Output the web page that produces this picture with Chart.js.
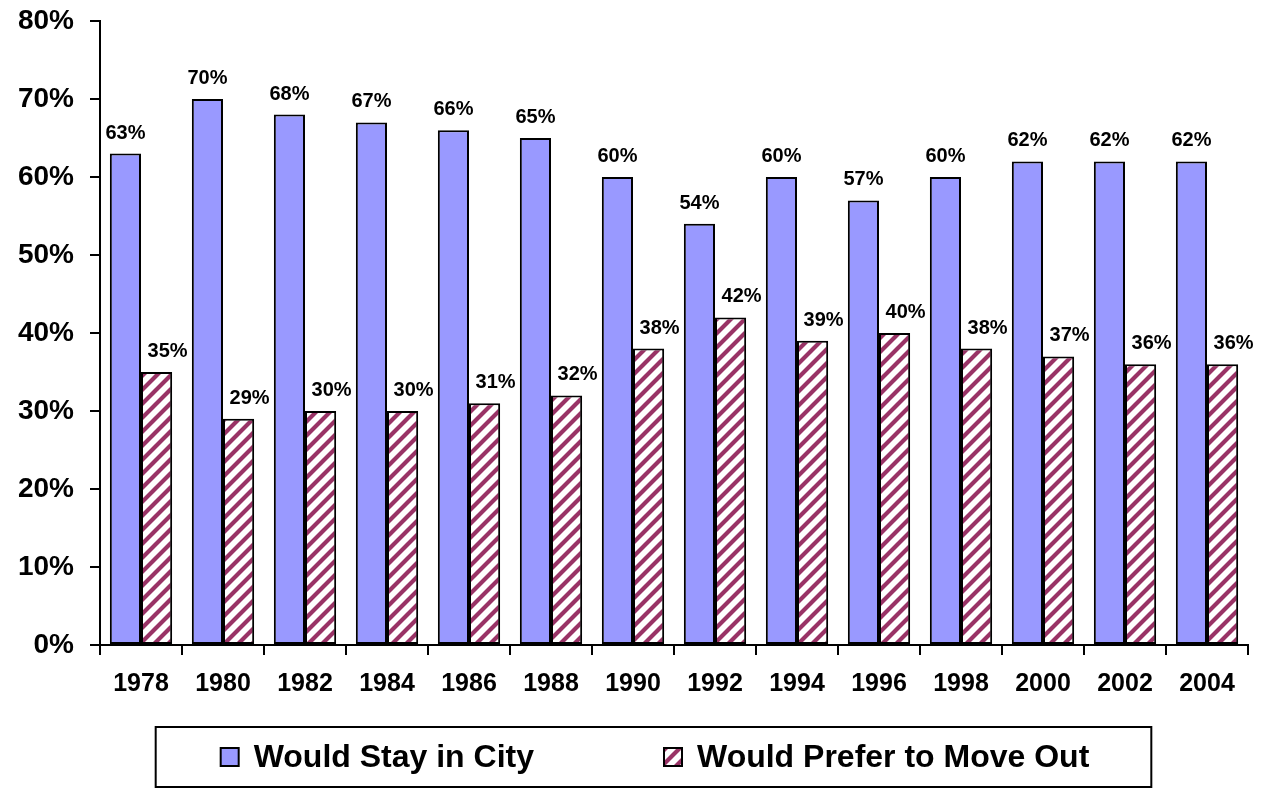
<!DOCTYPE html>
<html>
<head>
<meta charset="utf-8">
<script src="https://cdn.jsdelivr.net/npm/chart.js@4.4.1/dist/chart.umd.min.js"></script>
<style>
  html, body { margin: 0; padding: 0; background: #fff; }
  #wrap { width: 1279px; height: 789px; }
</style>
</head>
<body>
<div id="wrap"><canvas id="chart" width="1279" height="789"></canvas></div>
<script>
const years = ["1978","1980","1982","1984","1986","1988","1990","1992","1994","1996","1998","2000","2002","2004"];
const stayInCity = [63, 70, 68, 67, 66, 65, 60, 54, 60, 57, 60, 62, 62, 62];
const moveOut    = [35, 29, 30, 30, 31, 32, 38, 42, 39, 40, 38, 37, 36, 36];
const yTicks     = [0, 10, 20, 30, 40, 50, 60, 70, 80];

const FONT = "'Liberation Sans', Arial, sans-serif";

// diagonal maroon stripes on white
function makeHatch() {
  const s = 14;
  const c = document.createElement("canvas");
  c.width = s; c.height = s;
  const g = c.getContext("2d");
  g.fillStyle = "#fff";
  g.fillRect(0, 0, s, s);
  g.strokeStyle = "#993366";
  g.lineWidth = 4.2;
  g.beginPath();
  g.moveTo(-s, 2 * s); g.lineTo(2 * s, -s);
  g.moveTo(-s, s);     g.lineTo(s, -s);
  g.moveTo(0, 2 * s);  g.lineTo(2 * s, 0);
  g.stroke();
  return g.createPattern(c, "repeat");
}
const hatch = makeHatch();

// percentage labels above each bar (second series sits a little to the right)
const valueLabels = {
  id: "valueLabels",
  afterDatasetsDraw(chart) {
    const ctx = chart.ctx;
    ctx.save();
    ctx.font = "bold 20px " + FONT;
    ctx.fillStyle = "#000";
    ctx.textAlign = "center";
    ctx.textBaseline = "alphabetic";
    chart.data.datasets.forEach((ds, i) => {
      const dx = i === 1 ? 11 : 0;
      chart.getDatasetMeta(i).data.forEach((bar, j) => {
        ctx.fillText(ds.data[j] + "%", bar.x + dx, bar.y - 15);
      });
    });
    ctx.restore();
  }
};

// framed legend in the space left under the x axis
const boxedLegend = {
  id: "boxedLegend",
  afterDraw(chart) {
    const ctx = chart.ctx;
    const sw = 18, gap = 15, spacing = 130;
    const cx = 655, cy = chart.chartArea.bottom + 112;
    ctx.save();
    ctx.font = "bold 32px " + FONT;
    const items = chart.data.datasets.map(ds => ({ ds, w: ctx.measureText(ds.label).width }));
    const total = items.reduce((s, it) => s + sw + gap + it.w, 0) + spacing * (items.length - 1);
    let x = cx - total / 2;
    const start = x;
    ctx.textBaseline = "middle";
    ctx.textAlign = "left";
    items.forEach(it => {
      ctx.fillStyle = it.ds.backgroundColor;
      ctx.fillRect(x, cy - sw / 2, sw, sw);
      ctx.strokeStyle = "#000";
      ctx.lineWidth = 2;
      ctx.strokeRect(x, cy - sw / 2, sw, sw);
      ctx.fillStyle = "#000";
      ctx.fillText(it.ds.label, x + sw + gap, cy + 1);
      x += sw + gap + it.w + spacing;
    });
    const end = x - spacing;
    ctx.lineWidth = 2;
    ctx.strokeRect(start - 65, cy - 30, end - start + 127, 60);
    ctx.restore();
  }
};

new Chart(document.getElementById("chart"), {
  type: "bar",
  data: {
    labels: years,
    datasets: [
      { label: "Would Stay in City", data: stayInCity, backgroundColor: "#9999FF",
        borderColor: "#000", borderWidth: 2, borderSkipped: false },
      { label: "Would Prefer to Move Out", data: moveOut, backgroundColor: hatch,
        borderColor: "#000", borderWidth: 2, borderSkipped: false }
    ]
  },
  options: {
    responsive: false,
    animation: false,
    layout: { padding: { top: 21, right: 31, left: 0, bottom: 64 } },
    datasets: { bar: { categoryPercentage: 0.76, barPercentage: 1.0 } },
    plugins: {
      tooltip: { enabled: false },
      legend: { display: false }
    },
    scales: {
      x: {
        afterFit(scale) { scale.height = 80; },
        grid: { display: true, drawOnChartArea: false, drawTicks: true, tickLength: 10,
                color: "#000", lineWidth: 2, offset: true },
        border: { display: true, color: "#000", width: 2 },
        ticks: { font: { family: FONT, size: 25, weight: "bold" }, color: "#000", padding: 14, maxRotation: 0 }
      },
      y: {
        min: yTicks[0],
        max: yTicks[yTicks.length - 1],
        afterFit(scale) {
          scale.width = 100;
          scale.paddingTop = 0;
          scale.paddingBottom = 0;
        },
        afterBuildTicks(scale) { scale.ticks = yTicks.map(v => ({ value: v })); },
        grid: { display: true, drawOnChartArea: false, drawTicks: true, tickLength: 10,
                color: "#000", lineWidth: 2 },
        border: { display: true, color: "#000", width: 2 },
        ticks: { font: { family: FONT, size: 28, weight: "bold" }, color: "#000", padding: 16,
                 callback: v => v + "%" }
      }
    }
  },
  plugins: [valueLabels, boxedLegend]
});
</script>
</body>
</html>
